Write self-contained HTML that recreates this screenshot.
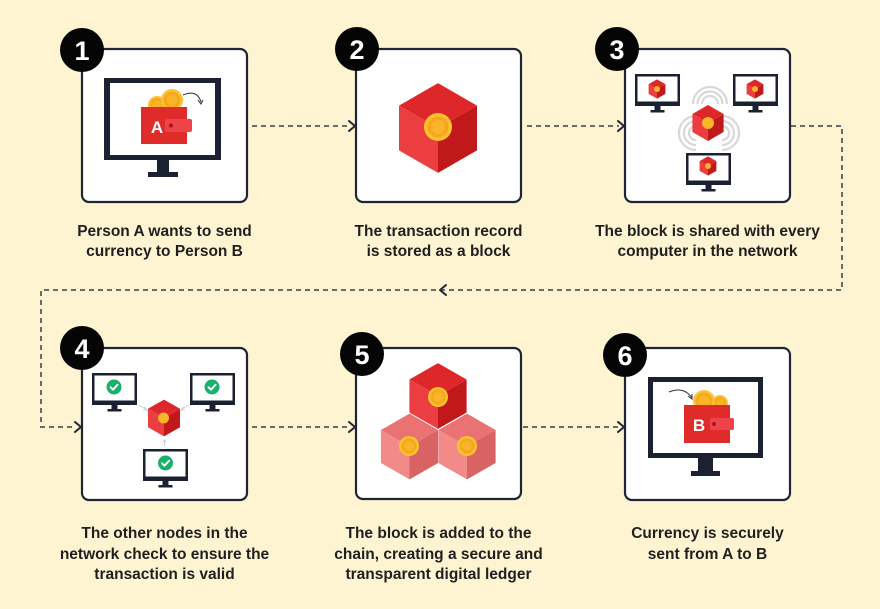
<!DOCTYPE html>
<html><head><meta charset="utf-8"><style>
html,body{margin:0;padding:0;background:#FEF4D2;}
svg{display:block;}
text{font-family:"Liberation Sans",sans-serif;}
</style></head><body>
<svg width="880" height="609" viewBox="0 0 880 609" xmlns="http://www.w3.org/2000/svg">
<defs>
<g id="cube">
 <polygon points="0,-23 20,-11.5 0,0 -20,-11.5" fill="#DE2729"/>
 <polygon points="-20,-11.5 0,0 0,23 -20,11.5" fill="#EC3D41"/>
 <polygon points="20,-11.5 0,0 0,23 20,11.5" fill="#C0181B"/>
</g>
<g id="pcube">
 <polygon points="0,-23 20,-11.5 0,0 -20,-11.5" fill="#EA7272"/>
 <polygon points="-20,-11.5 0,0 0,23 -20,11.5" fill="#F38A8A"/>
 <polygon points="20,-11.5 0,0 0,23 20,11.5" fill="#D96262"/>
</g>
<g id="coin">
 <circle r="10" fill="#FCC230"/>
 <circle r="7.6" fill="#F7A71E"/>
 <circle r="5" fill="#F9B52A"/>
</g>
<g id="mon">
 <rect x="0" y="0" width="45" height="32" fill="#1B2130"/>
 <rect x="2.5" y="2.5" width="40" height="25" fill="#fff"/>
 <rect x="19.5" y="32" width="6" height="5" fill="#1B2130"/>
 <rect x="15.5" y="36" width="14" height="2.5" fill="#1B2130"/>
</g>
<g id="chk">
 <circle r="7.5" fill="#17B26A"/>
 <path d="M-3.5,0.2 L-1,2.7 L3.6,-2.3" fill="none" stroke="#fff" stroke-width="1.9" stroke-linecap="round" stroke-linejoin="round"/>
</g>
</defs>

<!-- connectors -->
<g fill="none" stroke="#6b6b6b" stroke-width="2" stroke-dasharray="5 4">
 <path d="M252,126 H350"/>
 <path d="M527,126 H619"/>
 <path d="M791,126 H842 V290 H41 V427 H76"/>
 <path d="M252,427 H350"/>
 <path d="M523,427 H619"/>
</g>
<g fill="none" stroke="#1f2535" stroke-width="2" stroke-linecap="round" stroke-linejoin="round">
 <path d="M349,121 L355,126 L349,131"/>
 <path d="M618,121 L624,126 L618,131"/>
 <path d="M446,285 L440,290 L446,295"/>
 <path d="M75,422 L81,427 L75,432"/>
 <path d="M349,422 L355,427 L349,432"/>
 <path d="M618,422 L624,427 L618,432"/>
</g>

<!-- boxes -->
<g fill="#fff" stroke="#1f2535" stroke-width="2.2">
 <rect x="82" y="49" width="165" height="153" rx="7"/>
 <rect x="356" y="49" width="165" height="153" rx="7"/>
 <rect x="625" y="49" width="165" height="153" rx="7"/>
 <rect x="82" y="348" width="165" height="152" rx="7"/>
 <rect x="356" y="348" width="165" height="151" rx="7"/>
 <rect x="625" y="348" width="165" height="152" rx="7"/>
</g>

<!-- panel 1 -->
<rect x="104" y="78" width="117" height="82" fill="#1B2130"/>
<rect x="110" y="83" width="105" height="72" fill="#fff"/>
<rect x="157" y="160" width="12" height="13" fill="#1B2130"/>
<rect x="148" y="172" width="30" height="5" fill="#1B2130"/>
<use href="#coin" transform="translate(157,105) scale(0.9)"/>
<use href="#coin" transform="translate(172,100) scale(1.1)"/>
<rect x="141" y="107" width="46" height="37" fill="#E02B2B"/>
<rect x="165" y="119" width="27" height="13" rx="2" fill="#EE4349"/>
<circle cx="171" cy="125.5" r="2" fill="#A5151A"/>
<text x="157" y="133" font-size="17" font-weight="bold" fill="#fff" text-anchor="middle">A</text>
<path d="M183,95 Q197,89 201,102" fill="none" stroke="#333" stroke-width="1"/>
<path d="M198,100 L201,104 L203,100" fill="none" stroke="#333" stroke-width="1"/>

<!-- panel 2 -->
<use href="#cube" transform="translate(438,128) scale(1.95)"/>
<use href="#coin" transform="translate(438,127) scale(1.4)"/>

<!-- panel 3 -->
<g fill="none" stroke="#D8D8D8" stroke-width="2.2">
 <path d="M702,104 A8,8 0 0 1 718,104"/>
 <path d="M697.5,104 A12.5,12.5 0 0 1 722.5,104"/>
 <path d="M693,104 A17,17 0 0 1 727,104"/>
 <path d="M696,126 A7,7 0 0 0 696,140"/>
 <path d="M696,121 A12,12 0 0 0 696,145"/>
 <path d="M696,116 A17,17 0 0 0 696,150"/>
 <path d="M722,126 A7,7 0 0 1 722,140"/>
 <path d="M722,121 A12,12 0 0 1 722,145"/>
 <path d="M722,116 A17,17 0 0 1 722,150"/>
</g>
<use href="#mon" x="635" y="74"/>
<use href="#mon" x="733" y="74"/>
<use href="#mon" x="686" y="153"/>
<use href="#cube" transform="translate(657,89) scale(0.42)"/>
<circle cx="657" cy="89" r="3" fill="#F9B52A"/>
<use href="#cube" transform="translate(755,89) scale(0.42)"/>
<circle cx="755" cy="89" r="3" fill="#F9B52A"/>
<use href="#cube" transform="translate(708,166) scale(0.42)"/>
<circle cx="708" cy="166" r="3" fill="#F9B52A"/>
<use href="#cube" transform="translate(708,123) scale(0.78)"/>
<circle cx="708" cy="123" r="6" fill="#F9B52A"/>

<!-- panel 4 -->
<use href="#mon" x="92" y="373"/>
<use href="#mon" x="190" y="373"/>
<use href="#mon" x="143" y="449"/>
<use href="#chk" x="114" y="387"/>
<use href="#chk" x="212" y="387"/>
<use href="#chk" x="165.5" y="463"/>
<g fill="none" stroke="#CFCFCF" stroke-width="1">
 <path d="M139,405 L147,410"/><path d="M144,407 L147,410 L143,410"/>
 <path d="M189,405 L181,410"/><path d="M184,407 L181,410 L185,410"/>
 <path d="M164.5,447 L164.5,440"/><path d="M162.5,442 L164.5,440 L166.5,442"/>
</g>
<use href="#cube" transform="translate(164,418) scale(0.8)"/>
<circle cx="163.5" cy="418" r="5.5" fill="#F9B52A"/>

<!-- panel 5 -->
<use href="#pcube" transform="translate(409.5,446.5) scale(1.43)"/>
<use href="#pcube" transform="translate(467,446.5) scale(1.43)"/>
<use href="#cube" transform="translate(438,396) scale(1.43)"/>
<use href="#coin" transform="translate(438,397)"/>
<use href="#coin" transform="translate(409,446)"/>
<use href="#coin" transform="translate(467,446)"/>

<!-- panel 6 -->
<rect x="648" y="377" width="115" height="81" fill="#1B2130"/>
<rect x="653" y="382" width="105" height="71" fill="#fff"/>
<rect x="698" y="458" width="15" height="14" fill="#1B2130"/>
<rect x="691" y="471" width="29" height="5" fill="#1B2130"/>
<use href="#coin" transform="translate(720,403) scale(0.8)"/>
<use href="#coin" transform="translate(704,401) scale(1.1)"/>
<rect x="684" y="405" width="46" height="38" fill="#E02B2B"/>
<rect x="710" y="418" width="24" height="12" rx="2" fill="#EE4349"/>
<circle cx="714" cy="424" r="2" fill="#A5151A"/>
<text x="699" y="431" font-size="17" font-weight="bold" fill="#fff" text-anchor="middle">B</text>
<path d="M669,392 Q684,386 692,398" fill="none" stroke="#333" stroke-width="1"/>
<path d="M688,396 L692,399 L692,394" fill="none" stroke="#333" stroke-width="1"/>

<!-- badges -->
<g fill="#050505">
 <circle cx="82" cy="50" r="22"/>
 <circle cx="357" cy="49" r="22"/>
 <circle cx="617" cy="49" r="22"/>
 <circle cx="82" cy="348" r="22"/>
 <circle cx="362" cy="354" r="22"/>
 <circle cx="625" cy="355" r="22"/>
</g>
<g fill="#fff" font-size="27" font-weight="bold" text-anchor="middle">
 <text x="82" y="60">1</text>
 <text x="357" y="59">2</text>
 <text x="617" y="59">3</text>
 <text x="82" y="358">4</text>
 <text x="362" y="364">5</text>
 <text x="625" y="365">6</text>
</g>

<!-- captions -->
<g fill="#1f1f1f" font-size="15.5" font-weight="bold" text-anchor="middle">
 <text x="164.5" y="236">Person A wants to send</text>
 <text x="164.5" y="256">currency to Person B</text>
 <text x="438.5" y="236">The transaction record</text>
 <text x="438.5" y="256">is stored as a block</text>
 <text x="707.5" y="236">The block is shared with every</text>
 <text x="707.5" y="256">computer in the network</text>
 <text x="164.5" y="538">The other nodes in the</text>
 <text x="164.5" y="559">network check to ensure the</text>
 <text x="164.5" y="579">transaction is valid</text>
 <text x="438.5" y="538">The block is added to the</text>
 <text x="438.5" y="559">chain, creating a secure and</text>
 <text x="438.5" y="579">transparent digital ledger</text>
 <text x="707.5" y="538">Currency is securely</text>
 <text x="707.5" y="559">sent from A to B</text>
</g>
</svg>
</body></html>
